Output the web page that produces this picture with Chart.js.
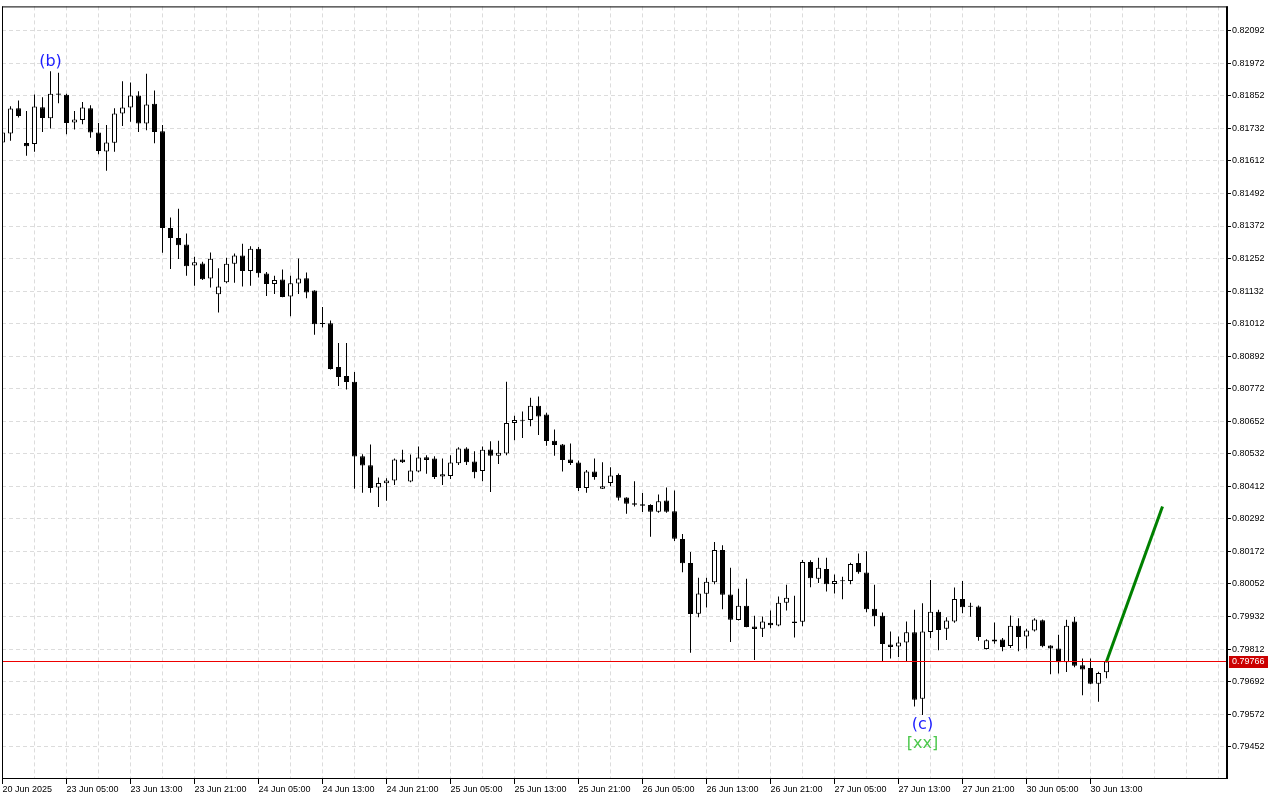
<!DOCTYPE html>
<html><head><meta charset="utf-8">
<script src="https://cdn.jsdelivr.net/npm/chart.js@4.4.1/dist/chart.umd.min.js"></script>
<style>html,body{margin:0;padding:0;background:#fff;}canvas{display:block;}</style>
</head><body>
<canvas id="c" width="1280" height="800"></canvas>
<script>
// ---- data (H1 candles) ----
const opens = [0.81680,0.81713,0.81806,0.81678,0.81674,0.81810,0.81769,0.81861,0.81856,0.81754,
0.81763,0.81806,0.81717,0.81647,0.81679,0.81787,0.81809,0.81853,0.81750,0.81823,
0.81721,0.81365,0.81328,0.81304,0.81226,0.81234,0.81178,0.81120,0.81165,0.81233,
0.81263,0.81206,0.81288,0.81197,0.81158,0.81175,0.81112,0.81160,0.81179,0.81134,
0.81013,0.81013,0.80852,0.80819,0.80798,0.80523,0.80490,0.80408,0.80423,0.80434,
0.80511,0.80430,0.80467,0.80519,0.80515,0.80448,0.80450,0.80497,0.80552,0.80504,
0.80469,0.80548,0.80525,0.80533,0.80646,0.80658,0.80657,0.80709,0.80677,0.80580,
0.80566,0.80511,0.80500,0.80406,0.80467,0.80403,0.80424,0.80454,0.80371,0.80350,
0.80346,0.80343,0.80318,0.80360,0.80320,0.80218,0.80129,0.79942,0.80016,0.80058,
0.80177,0.80013,0.79919,0.79972,0.79895,0.79887,0.79909,0.79899,0.79983,0.79914,
0.79913,0.80133,0.80071,0.80107,0.80052,0.80062,0.80063,0.80129,0.80094,0.79961,
0.79935,0.79829,0.79821,0.79836,0.79874,0.79629,0.79875,0.79950,0.79887,0.79914,
0.79997,0.79969,0.79969,0.79812,0.79840,0.79847,0.79823,0.79898,0.79858,0.79880,
0.79918,0.79825,0.79814,0.79763,0.79914,0.79752,0.79742,0.79684,0.79726];
const highs = [0.81725,0.81814,0.81835,0.81796,0.81857,0.81847,0.81943,0.81937,0.81860,0.81796,
0.81829,0.81817,0.81752,0.81744,0.81806,0.81906,0.81901,0.81869,0.81933,0.81872,
0.81744,0.81403,0.81436,0.81344,0.81259,0.81240,0.81274,0.81216,0.81255,0.81271,
0.81307,0.81297,0.81295,0.81202,0.81189,0.81212,0.81189,0.81252,0.81201,0.81135,
0.81073,0.81024,0.80941,0.80941,0.80834,0.80530,0.80566,0.80445,0.80442,0.80515,
0.80547,0.80529,0.80559,0.80527,0.80523,0.80515,0.80527,0.80556,0.80556,0.80541,
0.80559,0.80578,0.80580,0.80798,0.80672,0.80688,0.80739,0.80743,0.80683,0.80622,
0.80568,0.80570,0.80507,0.80472,0.80515,0.80501,0.80482,0.80459,0.80372,0.80431,
0.80387,0.80346,0.80382,0.80408,0.80397,0.80236,0.80170,0.80075,0.80075,0.80207,
0.80195,0.80112,0.80034,0.80071,0.79935,0.79932,0.79954,0.80006,0.80049,0.80009,
0.80140,0.80139,0.80149,0.80149,0.80087,0.80079,0.80130,0.80164,0.80173,0.80049,
0.79947,0.79877,0.79858,0.79914,0.79957,0.79981,0.80067,0.79957,0.79929,0.80039,
0.80063,0.79983,0.79973,0.79848,0.79910,0.79853,0.79936,0.79926,0.79887,0.79926,
0.79921,0.79826,0.79865,0.79920,0.79930,0.79777,0.79777,0.79728,0.79770];
const lows = [0.81670,0.81686,0.81772,0.81631,0.81646,0.81719,0.81732,0.81825,0.81710,0.81728,
0.81747,0.81697,0.81637,0.81576,0.81646,0.81741,0.81756,0.81719,0.81725,0.81677,
0.81273,0.81213,0.81250,0.81189,0.81152,0.81173,0.81145,0.81053,0.81161,0.81163,
0.81149,0.81152,0.81182,0.81114,0.81121,0.81109,0.81039,0.81121,0.81106,0.80971,
0.80998,0.80843,0.80782,0.80769,0.80403,0.80388,0.80388,0.80336,0.80359,0.80417,
0.80498,0.80427,0.80464,0.80458,0.80439,0.80417,0.80439,0.80491,0.80491,0.80442,
0.80431,0.80391,0.80494,0.80527,0.80582,0.80590,0.80634,0.80601,0.80562,0.80525,
0.80467,0.80491,0.80395,0.80388,0.80436,0.80402,0.80412,0.80360,0.80311,0.80338,
0.80317,0.80226,0.80315,0.80315,0.80210,0.80095,0.79798,0.79929,0.79965,0.80051,
0.79959,0.79838,0.79917,0.79892,0.79772,0.79856,0.79889,0.79896,0.79954,0.79855,
0.79896,0.80040,0.80056,0.80024,0.80017,0.79996,0.80051,0.80090,0.79948,0.79896,
0.79767,0.79777,0.79783,0.79767,0.79600,0.79569,0.79853,0.79808,0.79845,0.79909,
0.79944,0.79931,0.79843,0.79810,0.79832,0.79804,0.79816,0.79804,0.79814,0.79877,
0.79819,0.79719,0.79722,0.79727,0.79745,0.79642,0.79682,0.79618,0.79704];
const closes = [0.81717,0.81805,0.81778,0.81666,0.81813,0.81770,0.81860,0.81856,0.81752,0.81765,
0.81809,0.81717,0.81649,0.81680,0.81787,0.81809,0.81853,0.81750,0.81820,0.81719,
0.81365,0.81328,0.81301,0.81224,0.81238,0.81176,0.81251,0.81149,0.81233,0.81263,
0.81206,0.81288,0.81198,0.81158,0.81173,0.81110,0.81161,0.81178,0.81127,0.81010,
0.81011,0.80845,0.80815,0.80797,0.80522,0.80489,0.80406,0.80424,0.80434,0.80511,
0.80501,0.80470,0.80518,0.80509,0.80446,0.80457,0.80500,0.80552,0.80501,0.80464,
0.80547,0.80525,0.80536,0.80646,0.80657,0.80654,0.80709,0.80670,0.80579,0.80564,
0.80509,0.80498,0.80406,0.80467,0.80446,0.80412,0.80452,0.80370,0.80348,0.80344,
0.80340,0.80318,0.80357,0.80318,0.80219,0.80128,0.79941,0.80017,0.80060,0.80177,
0.80012,0.79920,0.79972,0.79893,0.79886,0.79914,0.79900,0.79983,0.80001,0.79908,
0.80133,0.80073,0.80112,0.80051,0.80063,0.80064,0.80126,0.80095,0.79959,0.79933,
0.79831,0.79820,0.79836,0.79874,0.79625,0.79877,0.79950,0.79882,0.79917,0.79997,
0.79966,0.79968,0.79856,0.79844,0.79847,0.79820,0.79898,0.79856,0.79880,0.79921,
0.79822,0.79814,0.79763,0.79898,0.79750,0.79737,0.79684,0.79724,0.79766];
const timeLabels = ['20 Jun 2025','23 Jun 05:00','23 Jun 13:00','23 Jun 21:00','24 Jun 05:00','24 Jun 13:00',
'24 Jun 21:00','25 Jun 05:00','25 Jun 13:00','25 Jun 21:00','26 Jun 05:00','26 Jun 13:00',
'26 Jun 21:00','27 Jun 05:00','27 Jun 13:00','27 Jun 21:00','30 Jun 05:00','30 Jun 13:00'];
const priceTicks = [0.79452,0.79572,0.79692,0.79812,0.79932,0.80052,0.80172,0.80292,0.80412,0.80532,
0.80652,0.80772,0.80892,0.81012,0.81132,0.81252,0.81372,0.81492,0.81612,0.81732,0.81852,0.81972,0.82092];
const currentPrice = 0.79766;
const forecastBars = [138, 145];
const forecastPrices = [0.79766, 0.80338];
const waveLabels = [
  {text:'(b)', bar:6, place:'above', color:'#1c1cff'},
  {text:'(c)', bar:115, place:'below', color:'#1c1cff'},
  {text:'[xx]', bar:115, place:'below2', color:'#4cc84c'}
];

// ---- build datasets ----
const idx = opens.map((_, i) => i);
const bodyData = idx.map(i => ({x: i, y: [opens[i], closes[i]]}));
const wickData = idx.map(i => ({x: i, y: [lows[i], highs[i]]}));
const bodyFill = idx.map(i => closes[i] > opens[i] ? '#ffffff' : '#000000');
const forecastData = forecastBars.map((b, i) => ({x: b, y: forecastPrices[i]}));

const FONT = '"Liberation Sans", Arial, sans-serif';
const hasLabel = (v) => v % 8 === 0 && v / 8 < timeLabels.length;

const overlay = {
  id: 'overlay',
  afterDraw(chart) {
    const ctx = chart.ctx, a = chart.chartArea;
    const xs = chart.scales.x, ys = chart.scales.y;
    ctx.save();
    // current price line
    const pyRow = Math.round(ys.getPixelForValue(currentPrice) - 0.5);
    ctx.fillStyle = '#ee0000';
    ctx.fillRect(a.left, pyRow, a.right - a.left, 1);
    // frame
    ctx.fillStyle = '#000';
    ctx.fillRect(a.left, a.top, a.right - a.left + 2, 1);
    ctx.fillRect(a.left, a.top, 1, a.bottom - a.top);
    ctx.fillRect(a.left, a.bottom, a.right - a.left + 2, 1);
    ctx.fillRect(a.right, a.top, 2, a.bottom - a.top + 1);
    // price box
    const py = pyRow + 0.5;
    ctx.fillStyle = '#cc0000';
    ctx.fillRect(a.right + 3, Math.round(py - 6), 39, 12);
    ctx.fillStyle = '#ffffff';
    ctx.font = '9px ' + FONT;
    ctx.textBaseline = 'middle'; ctx.textAlign = 'left';
    ctx.fillText(currentPrice.toFixed(5), a.right + 6, py + 0.5);
    // wave labels
    ctx.font = '16px "DejaVu Sans", sans-serif';
    ctx.textAlign = 'center';
    waveLabels.forEach(w => {
      const x = xs.getPixelForValue(w.bar);
      let y;
      if (w.place === 'above') y = ys.getPixelForValue(highs[w.bar]) - 9;
      else if (w.place === 'below') y = ys.getPixelForValue(lows[w.bar]) + 10;
      else y = ys.getPixelForValue(lows[w.bar]) + 29;
      ctx.fillStyle = w.color;
      ctx.fillText(w.text, x, y);
    });
    ctx.restore();
  }
};

Chart.defaults.font.family = FONT;
Chart.defaults.font.size = 9;
Chart.defaults.color = '#000';

new Chart(document.getElementById('c'), {
  type: 'bar',
  data: {
    datasets: [
      {type: 'line', data: forecastData, borderColor: '#008000', borderWidth: 3, pointRadius: 0,
       fill: false, tension: 0, order: -1},
      {data: bodyData, backgroundColor: bodyFill, borderColor: '#000', borderWidth: 1,
       borderSkipped: false, barThickness: 5, minBarLength: 1, grouped: false, inflateAmount: 0, order: 0},
      {data: wickData, backgroundColor: '#000', borderWidth: 0, barThickness: 1,
       grouped: false, inflateAmount: 0, order: 1}
    ]
  },
  options: {
    responsive: false, animation: false, devicePixelRatio: 1,
    layout: {padding: {left: 2, top: 2, right: 0, bottom: 0}},
    plugins: {legend: {display: false}, tooltip: {enabled: false}},
    scales: {
      x: {
        type: 'linear', min: -0.0625, max: 152.9375, offset: false,
        afterBuildTicks(scale) {
          const t = [];
          for (let k = 0; k <= 152; k += 4) t.push({value: k});
          scale.ticks = t;
        },
        afterFit(scale) { scale.height = 22; },
        ticks: {
          autoSkip: false, maxRotation: 0, minRotation: 0, align: 'start', padding: 0,
          color: '#000', font: {size: 9},
          callback: (v) => (hasLabel(v) ? timeLabels[v / 8] : '')
        },
        grid: {
          offset: false,
          color: (c) => (c.tick && c.tick.value === 0 ? 'rgba(0,0,0,0)' : '#dcdcdc'),
          tickColor: (c) => (c.tick && hasLabel(c.tick.value) ? '#000' : 'rgba(0,0,0,0)'),
          tickLength: 6, lineWidth: 1, borderDash: [4, 3]
        },
        border: {display: false, dash: [4, 3]}
      },
      y: {
        type: 'linear', position: 'right', min: 0.793365, max: 0.821818,
        afterBuildTicks(scale) { scale.ticks = priceTicks.map(v => ({value: v})); },
        afterFit(scale) { scale.width = 54; },
        ticks: {
          padding: 1, color: '#000', font: {size: 9},
          callback: (v) => Number(v).toFixed(5)
        },
        grid: {color: '#dcdcdc', tickColor: '#000', tickLength: 5, lineWidth: 1, borderDash: [4, 3]},
        border: {display: false, dash: [4, 3]}
      }
    }
  },
  plugins: [overlay]
});
</script>
</body></html>
